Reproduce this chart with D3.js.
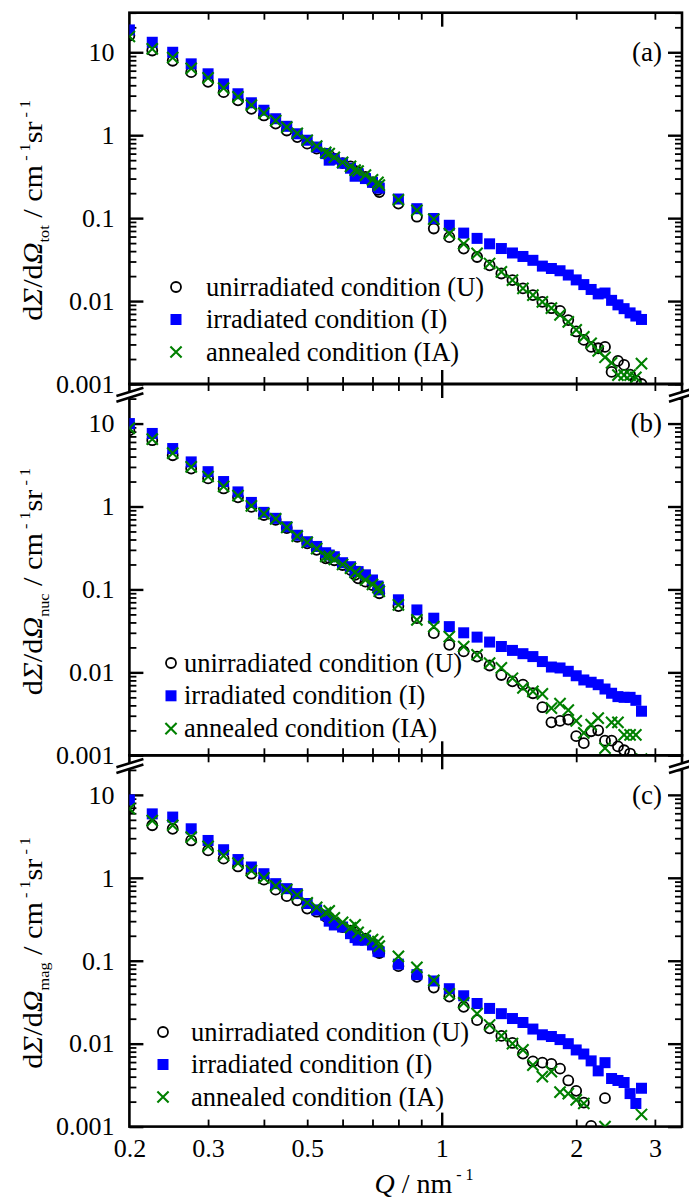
<!DOCTYPE html>
<html>
<head>
<meta charset="utf-8">
<script src="https://cdn.jsdelivr.net/npm/d3@7"></script>
<style>
  body { margin: 0; background: #fff; }
  svg { display: block; font-family: "Liberation Serif", "Times New Roman", serif; }
</style>
</head>
<body>
<svg id="chart" width="689" height="1198"></svg>
<script>
// Q values of the two detector settings (nm^-1)
const qLow = [0.2, 0.225, 0.25, 0.275, 0.3, 0.325, 0.35, 0.375, 0.4, 0.425, 0.45, 0.475, 0.5, 0.525, 0.55, 0.575, 0.6, 0.625, 0.65, 0.675, 0.7, 0.725];
const qHigh = [0.56, 0.64, 0.72, 0.8, 0.88, 0.96, 1.04, 1.12, 1.2, 1.28, 1.36, 1.44, 1.52, 1.6, 1.68, 1.76, 1.84, 1.92, 2.0, 2.08, 2.16, 2.24, 2.32, 2.4, 2.48, 2.56, 2.64, 2.72, 2.8];

// (a) total
const totU_low = [15.9, 10.5, 7.9, 5.75, 4.4, 3.3, 2.63, 2.08, 1.73, 1.38, 1.14, 0.95, 0.79, 0.69, 0.60, 0.52, 0.46, 0.42, 0.36, 0.315, 0.27, 0.206];
const totU_high = [0.57, 0.37, 0.22, 0.150, 0.104, 0.075, 0.059, 0.043, 0.034, 0.027, 0.0215, 0.0179, 0.0142, 0.0118, 0.0098, 0.0082, 0.0076, 0.0059, 0.0043, 0.0034, 0.0028, 0.0027, 0.0028, 0.0014, 0.0019, 0.0017, 0.0013, 0.0011, 0.0010];
const totI_low = [18.6, 13.2, 10.0, 7.25, 5.5, 4.16, 3.16, 2.46, 2.0, 1.58, 1.28, 1.04, 0.87, 0.72, 0.60, 0.52, 0.46, 0.40, 0.345, 0.30, 0.27, 0.23];
const totI_high = [0.50, 0.32, 0.24, 0.170, 0.130, 0.099, 0.082, 0.066, 0.057, 0.049, 0.043, 0.038, 0.0345, 0.031, 0.0264, 0.0247, 0.0232, 0.0206, 0.018, 0.0158, 0.0138, 0.0122, 0.0125, 0.0102, 0.0090, 0.0081, 0.0072, 0.0066, 0.0060];
const totIA_low = [15.5, 11.0, 8.6, 6.4, 4.9, 3.7, 2.9, 2.3, 1.85, 1.5, 1.25, 1.05, 0.87, 0.74, 0.62, 0.54, 0.47, 0.42, 0.37, 0.33, 0.29, 0.25];
const totIA_high = [0.60, 0.38, 0.27, 0.166, 0.124, 0.097, 0.065, 0.049, 0.0375, 0.0284, 0.0225, 0.0179, 0.0142, 0.0118, 0.0098, 0.0082, 0.0068, 0.0056, 0.0045, 0.0037, 0.0031, 0.0025, 0.0021, 0.0018, 0.00128, 0.00128, 0.00128, 0.0012, 0.00176];

// (b) nuclear
const nucU_low = [8.3, 6.3, 4.15, 2.87, 2.18, 1.65, 1.29, 0.99, 0.79, 0.69, 0.55, 0.43, 0.36, 0.30, 0.237, 0.225, 0.197, 0.172, 0.136, 0.124, 0.113, 0.09];
const nucU_high = [0.24, 0.15, 0.10, 0.063, 0.045, 0.0297, 0.0215, 0.0179, 0.0155, 0.0121, 0.0093, 0.0078, 0.0071, 0.0056, 0.0038, 0.0025, 0.0026, 0.0027, 0.0017, 0.0014, 0.00195, 0.0020, 0.0015, 0.0015, 0.00128, 0.00115, 0.00105, 0.0008, 0.0007];
const nucI_low = [10, 7.6, 5.0, 3.45, 2.63, 2.0, 1.5, 1.12, 0.85, 0.72, 0.57, 0.45, 0.376, 0.33, 0.277, 0.248, 0.21, 0.188, 0.164, 0.15, 0.13, 0.099];
const nucI_high = [0.26, 0.165, 0.11, 0.075, 0.0566, 0.045, 0.0356, 0.030, 0.0266, 0.0232, 0.0205, 0.0184, 0.0168, 0.0155, 0.0135, 0.0116, 0.0113, 0.0103, 0.0091, 0.0081, 0.0076, 0.0071, 0.0063, 0.0056, 0.0051, 0.0050, 0.0050, 0.0046, 0.0034];
const nucIA_low = [8.8, 6.5, 4.4, 3.0, 2.3, 1.75, 1.35, 1.02, 0.82, 0.71, 0.56, 0.44, 0.37, 0.31, 0.25, 0.23, 0.20, 0.18, 0.15, 0.13, 0.115, 0.095];
const nucIA_high = [0.25, 0.16, 0.105, 0.065, 0.043, 0.0356, 0.027, 0.0205, 0.0163, 0.0129, 0.0113, 0.0085, 0.0065, 0.0059, 0.0055, 0.0037, 0.0042, 0.0035, 0.0026, 0.00186, 0.00234, 0.0028, 0.00122, 0.0025, 0.0025, 0.00176, 0.00176, 0.00176, 0.0009];

// (c) magnetic
const magU_low = [7.1, 4.3, 3.9, 2.82, 2.14, 1.7, 1.37, 1.12, 0.95, 0.72, 0.60, 0.535, 0.425, 0.39, 0.34, 0.285, 0.255, 0.23, 0.203, 0.185, 0.161, 0.124];
const magU_high = [0.33, 0.22, 0.13, 0.086, 0.064, 0.0475, 0.037, 0.0278, 0.0192, 0.0153, 0.0124, 0.0102, 0.0076, 0.0061, 0.0059, 0.0057, 0.0050, 0.0036, 0.0027, 0.00195, 0.00102, 0.0008, 0.0022, 0.0007, 0.0006, 0.0005, 0.0005, 0.0004, 0.0004];
const magI_low = [8.7, 5.9, 5.4, 3.9, 2.82, 2.18, 1.66, 1.35, 1.12, 0.85, 0.74, 0.645, 0.49, 0.41, 0.355, 0.27, 0.255, 0.212, 0.177, 0.177, 0.155, 0.128];
const magI_high = [0.30, 0.19, 0.13, 0.091, 0.068, 0.057, 0.046, 0.0378, 0.0305, 0.0266, 0.023, 0.0201, 0.018, 0.015, 0.0128, 0.0122, 0.0112, 0.0100, 0.0084, 0.0075, 0.0062, 0.0047, 0.0059, 0.0038, 0.0036, 0.0034, 0.0025, 0.0019, 0.0029];
const magIA_low = [6.8, 4.9, 4.3, 3.1, 2.4, 1.85, 1.5, 1.22, 1.0, 0.8, 0.72, 0.62, 0.5, 0.44, 0.38, 0.33, 0.29, 0.25, 0.22, 0.2, 0.18, 0.15];
const magIA_high = [0.40, 0.27, 0.17, 0.113, 0.083, 0.058, 0.040, 0.031, 0.023, 0.0168, 0.0124, 0.0100, 0.0084, 0.0055, 0.0040, 0.0046, 0.0026, 0.0025, 0.0021, 0.0019, 0.0008, 0.0007, 0.0010, 0.0006, 0.0005, 0.0005, 0.0005, 0.0005, 0.0014];

// axes
const panelNames = ["a", "b", "c"];
const panelSubs = ["tot", "nuc", "mag"];
const legendNames = ["unirradiated condition (U)", "irradiated condition (I)", "annealed condition (IA)"];
const yTickValues = [0.001, 0.01, 0.1, 1, 10];
const yTickLabels = ["0.001", "0.01", "0.1", "1", "10"];
const xTickValues = [0.2, 0.3, 0.5, 1, 2, 3];
const xTickLabels = ["0.2", "0.3", "0.5", "1", "2", "3"];
const xMinorTicks = [0.3, 0.4, 0.5, 0.6, 0.7, 0.8, 0.9, 2, 3];
const xMajorTicks = [1];

const panelData = [
  [[totU_low, totU_high], [totI_low, totI_high], [totIA_low, totIA_high]],
  [[nucU_low, nucU_high], [nucI_low, nucI_high], [nucIA_low, nucIA_high]],
  [[magU_low, magU_high], [magI_low, magI_high], [magIA_low, magIA_high]]
];

const left = 129.4, right = 682, top0 = 12.7, ph = 371.3;
const blue = "#0000ff", green = "#008000";

const svg = d3.select("#chart");
const x = d3.scaleLog().domain([0.2, 3.45]).range([left, right]);

// minor y ticks 2..9 in each decade
let yMinor = [];
for (let e = -3; e <= 1; e++) for (let k = 2; k <= 9; k++) if (k * 10 ** e <= 30) yMinor.push(k * 10 ** e);

// legend placement per panel (marker x, text x, first row y, row step)
const legendPos = [[176, 206, 287, 32.5], [171, 184, 663, 32.8], [163, 191, 1032, 32.5]];
const titleShift = 12;

function marker(g, type) {
  if (type == 0) {
    g.append("circle").attr("r", 5).attr("fill", "none").attr("stroke", "#000").attr("stroke-width", 1.8);
  } else if (type == 1) {
    g.append("rect").attr("x", -5.5).attr("y", -5.5).attr("width", 11).attr("height", 11).attr("fill", blue);
  } else {
    g.append("path").attr("d", "M-5.6,-5.6L5.6,5.6M-5.6,5.6L5.6,-5.6").attr("stroke", green).attr("stroke-width", 2.1).attr("fill", "none");
  }
}

panelData.forEach((series, i) => {
  const pTop = top0 + i * ph, pBot = pTop + ph;
  const y = d3.scaleLog().domain([0.001, 30]).range([pBot, pTop]);
  const g = svg.append("g");

  svg.append("clipPath").attr("id", "clip" + i)
    .append("rect").attr("x", left).attr("y", pTop).attr("width", right - left).attr("height", ph);

  // ticks on four sides, all pointing in
  const tickAxis = (axis, tr, vals, size) => {
    const a = g.append("g").attr("transform", tr)
      .call(axis.tickValues(vals).tickSize(-size).tickFormat(""));
    a.select(".domain").remove();
    a.selectAll("line").attr("stroke", "#000").attr("stroke-width", size > 10 ? 2.4 : 1.8);
  };
  tickAxis(d3.axisLeft(y), `translate(${left},0)`, yMinor, 7);
  tickAxis(d3.axisLeft(y), `translate(${left},0)`, yTickValues, 14);
  tickAxis(d3.axisRight(y), `translate(${right},0)`, yMinor, 7);
  tickAxis(d3.axisRight(y), `translate(${right},0)`, yTickValues, 14);
  tickAxis(d3.axisTop(x), `translate(0,${pTop})`, xMinorTicks, 7);
  tickAxis(d3.axisTop(x), `translate(0,${pTop})`, xMajorTicks, 14);
  tickAxis(d3.axisBottom(x), `translate(0,${pBot})`, xMinorTicks, 7);
  tickAxis(d3.axisBottom(x), `translate(0,${pBot})`, xMajorTicks, 14);

  // y tick labels
  const yl = g.append("g").attr("transform", `translate(${left},0)`)
    .call(d3.axisLeft(y).tickValues(yTickValues).tickSize(0).tickPadding(15)
      .tickFormat((d, j) => yTickLabels[j]));
  yl.select(".domain").remove();
  yl.selectAll("text").attr("font-size", 26).attr("font-family", "Liberation Serif").attr("fill", "#000");

  // frame
  g.append("rect").attr("x", left).attr("y", pTop).attr("width", right - left).attr("height", ph)
    .attr("fill", "none").attr("stroke", "#000").attr("stroke-width", 2.6);

  // points: U, I, IA
  const pts = svg.append("g").attr("clip-path", `url(#clip${i})`);
  series.forEach((s, k) => {
    const rows = qLow.map((q, j) => [q, s[0][j]]).concat(qHigh.map((q, j) => [q, s[1][j]]));
    pts.append("g").selectAll("g").data(rows).enter().append("g")
      .attr("transform", d => `translate(${x(d[0])},${y(d[1])})`)
      .each(function () { marker(d3.select(this), k); });
  });

  // panel letter
  svg.append("text").attr("x", right - 20).attr("y", y(10)).attr("dy", "0.33em")
    .attr("text-anchor", "end").attr("font-size", 27).text(`(${panelNames[i]})`);

  // legend
  const lp = legendPos[i];
  legendNames.forEach((name, k) => {
    const ly = lp[2] + k * lp[3];
    const m = svg.append("g").attr("transform", `translate(${lp[0]},${ly})`);
    marker(m, k);
    svg.append("text").attr("x", lp[1]).attr("y", ly + 8.5)
      .attr("font-size", 26.5).text(name);
  });

  // y title
  const t = svg.append("text")
    .attr("transform", `translate(42,${(pTop + pBot) / 2 + titleShift}) rotate(-90) scale(1.08,1)`)
    .attr("text-anchor", "middle").attr("font-size", 28);
  t.append("tspan").text("d");
  t.append("tspan").attr("font-style", "italic").text("Σ");
  t.append("tspan").text("/d");
  t.append("tspan").attr("font-style", "italic").text("Ω");
  t.append("tspan").attr("font-size", 15).attr("dy", 7).text(panelSubs[i]);
  t.append("tspan").attr("dy", -7).text(" / cm");
  t.append("tspan").attr("font-size", 15).attr("dy", -12).text(" - 1");
  t.append("tspan").attr("dy", 12).text("sr");
  t.append("tspan").attr("font-size", 15).attr("dy", -12).text(" - 1");
});

// x tick labels on the bottom panel
const xb = top0 + 3 * ph;
const xl = svg.append("g").attr("transform", `translate(0,${xb})`)
  .call(d3.axisBottom(x).tickValues(xTickValues).tickSize(0).tickPadding(12)
    .tickFormat((d, j) => xTickLabels[j]));
xl.select(".domain").remove();
xl.selectAll("text").attr("font-size", 26).attr("font-family", "Liberation Serif").attr("fill", "#000");

// x title
const xt = svg.append("text").attr("x", 424).attr("y", 1193).attr("text-anchor", "middle").attr("font-size", 28);
xt.append("tspan").attr("font-style", "italic").text("Q");
xt.append("tspan").text(" / nm");
xt.append("tspan").attr("font-size", 16).attr("dy", -13).text(" - 1");

// axis breaks between panels
[1, 2].forEach(i => {
  const jy = top0 + i * ph + 10;
  [left, right].forEach(cx => {
    const b = svg.append("g").attr("transform", `translate(${cx},${jy})`);
    b.append("path").attr("d", "M-13,2L14,-6.3L14,-0.7L-13,7.7Z").attr("fill", "#fff");
    b.append("path").attr("d", "M-13,2L14,-6.3M-13,7.7L14,-0.7")
      .attr("stroke", "#000").attr("stroke-width", 2.6).attr("fill", "none");
  });
});
</script>
</body>
</html>
